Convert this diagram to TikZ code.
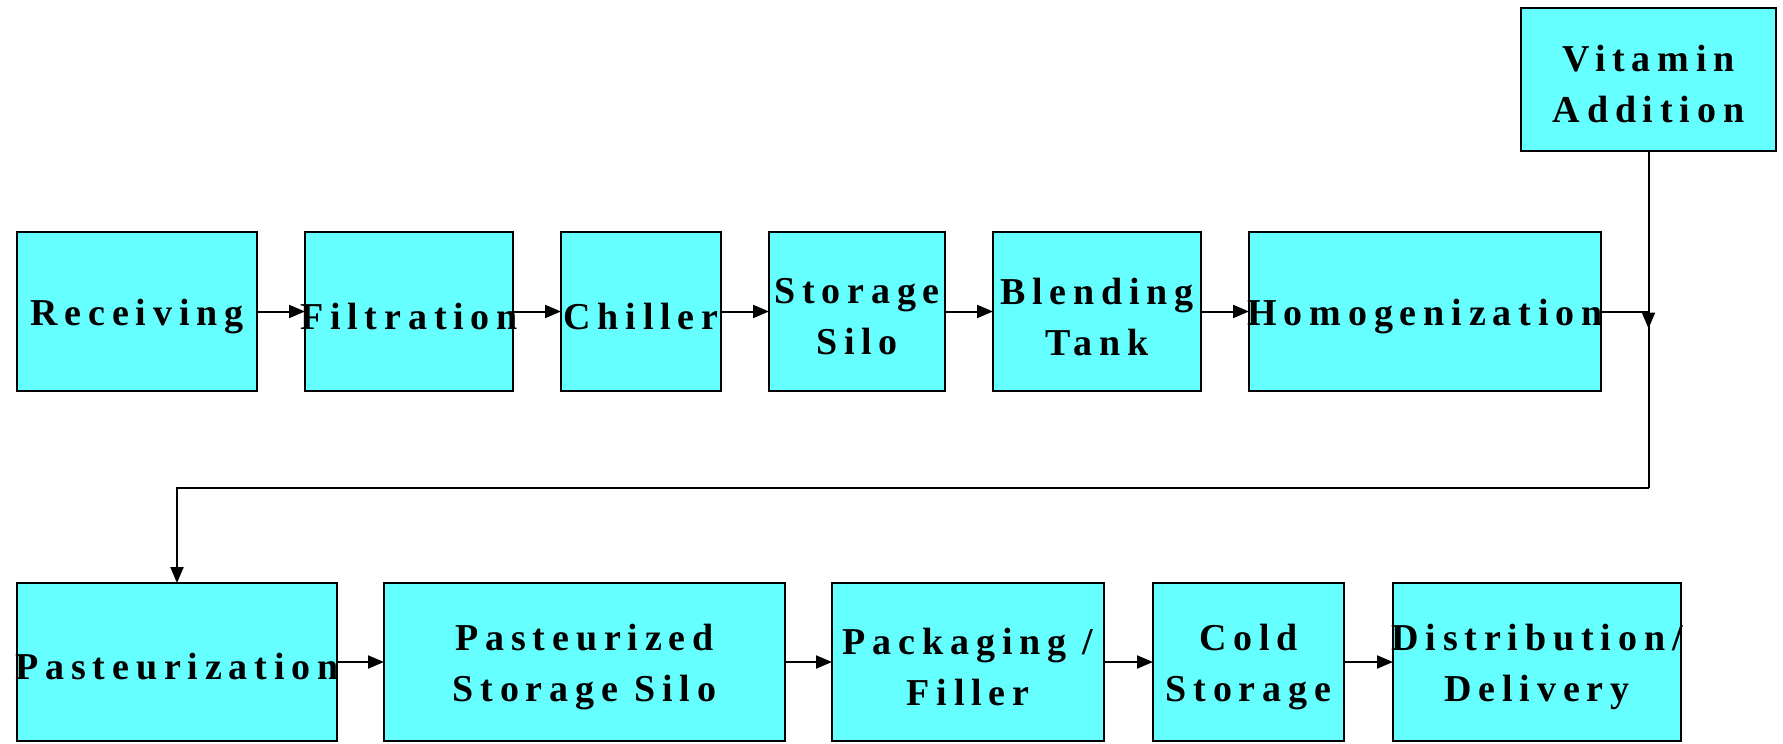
\documentclass[tikz,border=0pt]{standalone}
\usepackage{fontspec}
\setmainfont{Liberation Serif}
\newfontfamily\stepfont[LetterSpace=18]{Liberation Serif}
\usetikzlibrary{arrows.meta,calc}
\definecolor{tank}{RGB}{102,255,255}
\tikzset{box/.style={draw=black,fill=tank,line width=1.2pt,inner sep=0pt,outer sep=0pt},
  boxtext/.style={align=center,yshift=-2.5pt,font=\stepfont\bfseries\fontsize{19}{25.5}\selectfont},
  flow/.style={-{Triangle[length=8pt,width=6.5pt]},line width=1pt}}

\begin{document}
\begin{tikzpicture}[x=0.5pt,y=-0.5pt]
\useasboundingbox (0,0) rectangle (1783,744);
% first row
\foreach \n/\cx/\w/\txt in {recv/137/240/Receiving,filt/409/208/Filtration,chill/641/160/Chiller,
  silo/857/176/{Storage\\Silo},blend/1097/208/{Blending\\Tank},homog/1425/352/Homogenization}{
  \node[box,minimum width=\w*0.5pt,minimum height=79.5pt] (\n) at (\cx,311.5) {};
  \node[boxtext] (\n-t) at (\n) {\txt};
}
\node[box,minimum width=127.5pt,minimum height=71.5pt] (vit) at (1648.5,79.5) {};
\node[boxtext] (vit-t) at (vit) {Vitamin\\Addition};
% second row
\foreach \n/\cx/\w/\txt in {past/177/320/Pasteurization,pss/584.5/401/{Pasteurized\\Storage Silo},
  pack/968/272/{Packaging /\\Filler},cold/1248.5/191/{Cold\\Storage},dist/1537/288/{Distribution/\\Delivery}}{
  \node[box,minimum width=\w*0.5pt,minimum height=79pt] (\n) at (\cx,662) {};
  \node[boxtext] (\n-t) at (\n) {\txt};
}
\foreach \a/\b in {recv/filt,filt/chill,chill/silo,silo/blend,blend/homog,
  past/pss,pss/pack,pack/cold,cold/dist}
  \draw[flow] (\a) -- (\b);
% vitamin joins the line, then back down to the second row
\coordinate (join) at (vit.south |- homog.east);
\coordinate (turn) at ($(join)+(0,176)$);
\draw[line width=1pt] (homog.east) -- (join) -- (turn);
\draw[flow] (vit.south) -- ($(join)+(0,17)$);
\draw[flow] (turn) -| (past.north);
\end{tikzpicture}
\end{document}
